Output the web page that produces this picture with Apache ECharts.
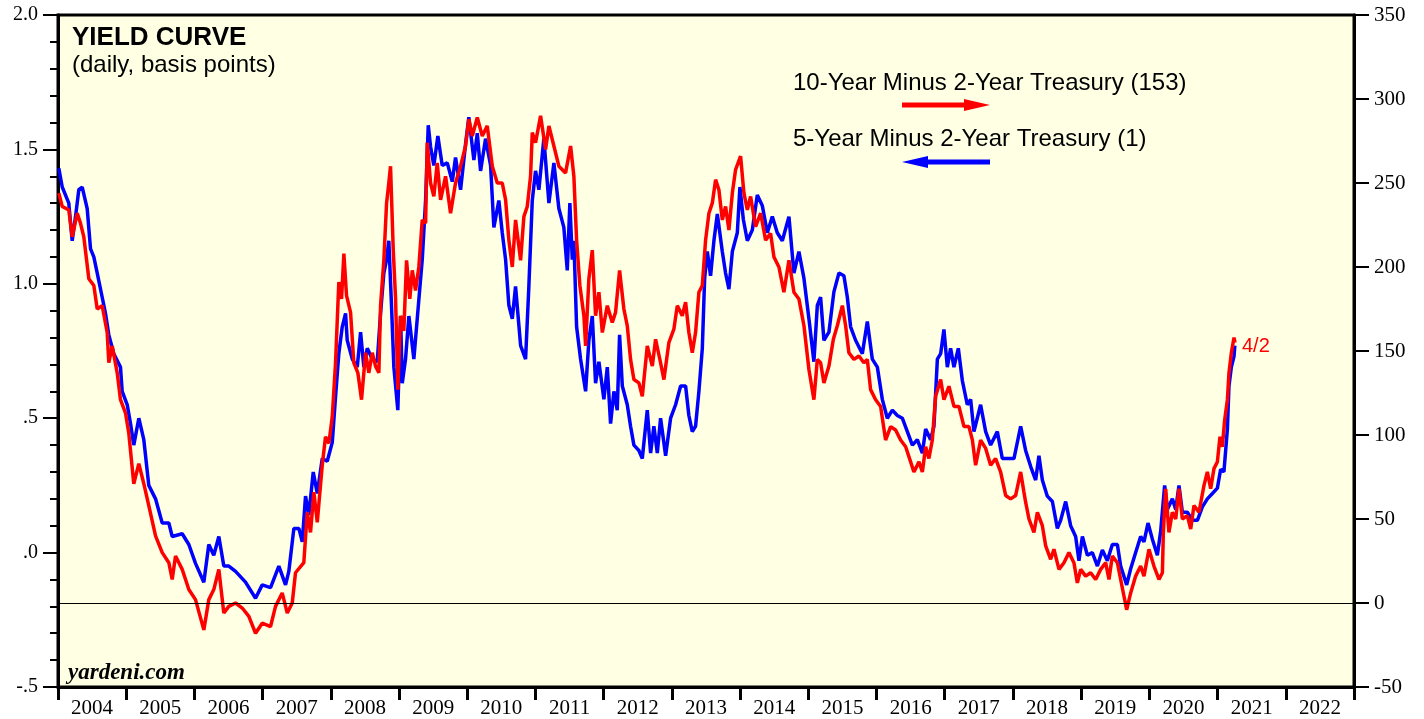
<!DOCTYPE html>
<html>
<head>
<meta charset="utf-8">
<script src="https://cdn.jsdelivr.net/npm/echarts@6/dist/echarts.min.js"></script>
<style>
html,body{margin:0;padding:0;background:#fff;}
#chart{width:1424px;height:719px;}
</style>
</head>
<body>
<div id="chart"></div>
<script>
// ---- Data (decimal years) ----
var years = ['2004','2005','2006','2007','2008','2009','2010','2011','2012','2013','2014','2015','2016','2017','2018','2019','2020','2021','2022'];

var leftTicks = [-0.5, 0, 0.5, 1, 1.5, 2];
var leftTickLabels = ['-.5', '.0', '.5', '1.0', '1.5', '2.0'];

// 5-Year minus 2-Year Treasury (left axis, percentage points)
var blueT = [2004.012,2004.062,2004.158,2004.208,2004.257,2004.305,2004.355,2004.428,2004.477,2004.525,2004.575,2004.648,2004.696,2004.745,2004.818,2004.916,2004.941,2005.015,2005.063,2005.111,2005.185,2005.258,2005.331,2005.430,2005.528,2005.625,2005.674,2005.821,2005.918,2006.016,2006.138,2006.211,2006.284,2006.358,2006.431,2006.504,2006.603,2006.749,2006.896,2006.994,2007.116,2007.238,2007.336,2007.384,2007.458,2007.531,2007.581,2007.629,2007.677,2007.742,2007.801,2007.874,2007.947,2008.021,2008.069,2008.117,2008.167,2008.216,2008.240,2008.314,2008.387,2008.436,2008.484,2008.534,2008.607,2008.680,2008.729,2008.777,2008.817,2008.850,2008.886,2008.924,2008.982,2009.022,2009.047,2009.095,2009.144,2009.217,2009.290,2009.340,2009.389,2009.428,2009.462,2009.510,2009.569,2009.633,2009.707,2009.780,2009.828,2009.902,2009.975,2010.023,2010.097,2010.147,2010.195,2010.268,2010.342,2010.390,2010.463,2010.513,2010.562,2010.610,2010.660,2010.708,2010.782,2010.855,2010.903,2010.953,2011.001,2011.050,2011.123,2011.197,2011.270,2011.343,2011.416,2011.466,2011.504,2011.540,2011.563,2011.603,2011.661,2011.735,2011.783,2011.833,2011.881,2011.930,2012.003,2012.053,2012.101,2012.150,2012.199,2012.233,2012.273,2012.346,2012.394,2012.443,2012.516,2012.566,2012.639,2012.688,2012.736,2012.786,2012.834,2012.908,2012.981,2013.054,2013.128,2013.201,2013.249,2013.299,2013.347,2013.396,2013.446,2013.480,2013.519,2013.567,2013.616,2013.666,2013.739,2013.787,2013.836,2013.886,2013.959,2013.997,2014.047,2014.106,2014.179,2014.252,2014.326,2014.399,2014.472,2014.545,2014.619,2014.716,2014.789,2014.862,2014.936,2015.009,2015.082,2015.132,2015.180,2015.229,2015.302,2015.375,2015.449,2015.522,2015.572,2015.620,2015.693,2015.792,2015.865,2015.938,2016.012,2016.085,2016.158,2016.232,2016.305,2016.378,2016.452,2016.525,2016.598,2016.672,2016.720,2016.793,2016.842,2016.892,2016.940,2016.988,2017.038,2017.086,2017.135,2017.199,2017.258,2017.331,2017.380,2017.428,2017.526,2017.600,2017.673,2017.771,2017.844,2017.918,2018.015,2018.113,2018.186,2018.260,2018.333,2018.381,2018.431,2018.504,2018.578,2018.651,2018.699,2018.773,2018.846,2018.919,2018.968,2019.018,2019.091,2019.164,2019.238,2019.311,2019.384,2019.457,2019.531,2019.579,2019.667,2019.726,2019.799,2019.872,2019.921,2019.980,2020.044,2020.117,2020.166,2020.224,2020.264,2020.337,2020.386,2020.434,2020.484,2020.557,2020.630,2020.704,2020.777,2020.850,2020.924,2020.997,2021.045,2021.093,2021.144,2021.167,2021.202,2021.241,2021.253];
var blueV = [1.43,1.36,1.30,1.16,1.25,1.35,1.36,1.28,1.13,1.10,1.04,0.95,0.89,0.81,0.74,0.69,0.60,0.55,0.48,0.40,0.50,0.42,0.25,0.20,0.11,0.11,0.06,0.07,0.03,-0.04,-0.11,0.03,-0.01,0.06,-0.05,-0.05,-0.07,-0.11,-0.17,-0.12,-0.13,-0.05,-0.12,-0.07,0.09,0.09,0.04,0.21,0.14,0.30,0.22,0.35,0.34,0.41,0.58,0.74,0.84,0.89,0.79,0.72,0.69,0.82,0.69,0.76,0.72,0.71,0.89,1.04,1.09,1.16,0.94,0.69,0.53,0.88,0.63,0.72,0.88,0.72,0.94,1.09,1.31,1.59,1.51,1.44,1.55,1.44,1.45,1.38,1.47,1.35,1.52,1.62,1.46,1.56,1.42,1.54,1.44,1.21,1.31,1.19,1.09,0.92,0.87,0.99,0.77,0.72,0.99,1.31,1.42,1.35,1.54,1.30,1.45,1.28,1.21,1.05,1.30,1.09,1.16,0.84,0.72,0.60,0.79,0.88,0.63,0.71,0.57,0.69,0.48,0.60,0.53,0.81,0.62,0.55,0.47,0.40,0.38,0.35,0.53,0.37,0.47,0.37,0.50,0.36,0.50,0.55,0.62,0.62,0.51,0.45,0.47,0.60,0.76,1.02,1.12,1.03,1.16,1.26,1.12,1.04,0.98,1.12,1.19,1.36,1.24,1.16,1.20,1.33,1.29,1.19,1.25,1.19,1.16,1.25,1.04,1.12,1.02,0.87,0.71,0.92,0.95,0.79,0.82,0.97,1.04,1.03,0.95,0.84,0.79,0.74,0.86,0.72,0.69,0.57,0.50,0.53,0.51,0.50,0.45,0.40,0.42,0.37,0.46,0.42,0.47,0.72,0.74,0.83,0.69,0.76,0.69,0.76,0.64,0.55,0.57,0.45,0.55,0.45,0.40,0.45,0.35,0.35,0.35,0.47,0.38,0.32,0.27,0.36,0.27,0.21,0.19,0.09,0.12,0.19,0.10,0.06,-0.03,0.06,-0.01,0.00,-0.05,0.01,-0.03,0.03,0.03,-0.05,-0.12,-0.06,0.00,0.06,0.04,0.11,0.05,-0.01,0.08,0.25,0.16,0.20,0.16,0.25,0.15,0.15,0.12,0.12,0.17,0.20,0.22,0.24,0.31,0.30,0.46,0.62,0.69,0.73,0.77];

// 10-Year minus 2-Year Treasury (right axis, basis points)
var redT = [2004.012,2004.062,2004.158,2004.208,2004.282,2004.330,2004.378,2004.452,2004.525,2004.575,2004.648,2004.721,2004.745,2004.795,2004.868,2004.916,2004.990,2005.038,2005.111,2005.185,2005.258,2005.331,2005.430,2005.528,2005.625,2005.674,2005.723,2005.821,2005.918,2006.016,2006.138,2006.211,2006.284,2006.358,2006.431,2006.504,2006.603,2006.701,2006.798,2006.896,2006.994,2007.116,2007.189,2007.287,2007.361,2007.434,2007.482,2007.604,2007.654,2007.702,2007.751,2007.801,2007.874,2007.922,2007.971,2008.021,2008.069,2008.117,2008.157,2008.191,2008.230,2008.289,2008.337,2008.396,2008.450,2008.509,2008.557,2008.607,2008.655,2008.704,2008.729,2008.777,2008.817,2008.850,2008.875,2008.915,2008.949,2008.982,2009.022,2009.070,2009.110,2009.158,2009.194,2009.242,2009.290,2009.340,2009.389,2009.413,2009.462,2009.510,2009.560,2009.609,2009.682,2009.755,2009.828,2009.902,2009.975,2010.023,2010.073,2010.147,2010.220,2010.293,2010.367,2010.440,2010.513,2010.562,2010.610,2010.660,2010.708,2010.782,2010.830,2010.880,2010.928,2010.953,2011.001,2011.075,2011.148,2011.197,2011.270,2011.343,2011.441,2011.515,2011.563,2011.603,2011.651,2011.710,2011.735,2011.783,2011.833,2011.881,2011.930,2011.980,2012.053,2012.126,2012.174,2012.233,2012.296,2012.346,2012.394,2012.443,2012.516,2012.566,2012.639,2012.713,2012.761,2012.834,2012.883,2012.956,2013.029,2013.079,2013.152,2013.201,2013.249,2013.299,2013.347,2013.396,2013.446,2013.494,2013.543,2013.592,2013.641,2013.689,2013.739,2013.787,2013.836,2013.886,2013.934,2014.007,2014.056,2014.106,2014.154,2014.227,2014.301,2014.374,2014.447,2014.496,2014.569,2014.642,2014.716,2014.789,2014.862,2014.936,2015.009,2015.082,2015.132,2015.180,2015.229,2015.302,2015.367,2015.425,2015.499,2015.547,2015.595,2015.669,2015.742,2015.815,2015.865,2015.913,2015.987,2016.060,2016.133,2016.207,2016.280,2016.353,2016.427,2016.500,2016.548,2016.622,2016.672,2016.720,2016.768,2016.818,2016.866,2016.940,2016.988,2017.062,2017.135,2017.208,2017.282,2017.355,2017.405,2017.453,2017.526,2017.600,2017.673,2017.746,2017.819,2017.893,2017.966,2018.040,2018.113,2018.161,2018.186,2018.235,2018.308,2018.358,2018.431,2018.480,2018.553,2018.601,2018.675,2018.748,2018.821,2018.894,2018.944,2018.993,2019.066,2019.139,2019.213,2019.286,2019.359,2019.408,2019.457,2019.531,2019.579,2019.628,2019.667,2019.726,2019.799,2019.872,2019.921,2019.994,2020.067,2020.141,2020.191,2020.205,2020.239,2020.287,2020.337,2020.386,2020.434,2020.484,2020.557,2020.606,2020.654,2020.727,2020.801,2020.850,2020.899,2020.947,2020.997,2021.035,2021.070,2021.104,2021.144,2021.167,2021.202,2021.241,2021.255];
var redV = [244,236,234,218,232,226,218,193,189,175,177,161,143,153,137,121,113,101,71,83,71,58,40,30,24,14,28,20,8,2,-16,2,8,20,-6,-2,0,-3,-8,-18,-12,-14,-2,6,-6,0,18,24,54,42,66,48,82,99,95,111,143,191,181,208,183,173,143,137,121,149,137,149,141,137,177,204,238,250,260,210,181,127,171,162,204,181,198,186,200,228,226,274,250,242,262,240,254,232,250,260,272,288,278,289,278,284,260,250,250,240,216,200,228,204,230,236,254,280,274,290,270,284,272,260,256,272,254,216,189,171,153,193,210,171,185,161,177,167,173,198,175,165,145,133,131,123,153,141,157,143,133,155,163,177,171,179,161,149,161,185,189,216,232,238,252,246,228,236,222,244,258,266,244,234,242,224,232,216,220,206,200,185,204,185,181,165,139,121,145,143,131,141,157,165,177,165,149,145,147,143,145,127,121,117,97,105,103,97,93,84,78,84,78,93,86,97,123,133,121,129,117,117,105,105,97,82,97,92,82,86,78,64,62,64,78,66,60,50,42,54,46,34,26,32,20,24,30,24,12,20,16,18,14,20,24,14,28,24,14,4,-4,6,16,22,16,32,22,14,18,42,68,42,54,50,68,50,52,44,58,54,70,78,68,80,84,99,93,109,121,137,149,158,155];

var title = 'YIELD CURVE';
var subtitle = '(daily, basis points)';
var redName = '10-Year Minus 2-Year Treasury (153)';
var blueName = '5-Year Minus 2-Year Treasury (1)';
var endDateLabel = '4/2';
var source = 'yardeni.com';

function pairs(t, v) { return t.map(function (x, i) { return [x, v[i]]; }); }

var SERIF = '"Liberation Serif", "Times New Roman", serif';
var SANS = '"Liberation Sans", Arial, sans-serif';

var chart = echarts.init(document.getElementById('chart'), null, { renderer: 'canvas' });

var option = {
  animation: false,
  backgroundColor: '#ffffff',
  grid: {
    left: 58, right: 70, top: 15, bottom: 31,
    show: true, backgroundColor: '#ffffe4', borderColor: '#000', borderWidth: 3,
    containLabel: false
  },
  xAxis: [
    {
      type: 'value', min: 2004, max: 2023, interval: 1, position: 'bottom',
      axisLine: { show: true, onZero: false, lineStyle: { color: '#000', width: 3 } },
      axisTick: { show: true, length: 13, lineStyle: { color: '#000', width: 3 } },
      axisLabel: { show: false },
      splitLine: { show: false }
    },
    {
      type: 'category', data: years, position: 'bottom', boundaryGap: true,
      axisLine: { show: false, onZero: false }, axisTick: { show: false }, splitLine: { show: false },
      axisLabel: { show: true, interval: 0, margin: 11, color: '#000', fontFamily: SERIF, fontSize: 21 }
    }
  ],
  yAxis: [
    {
      type: 'value', position: 'left', min: -0.5, max: 2.0, interval: 0.5,
      axisLine: { show: true, onZero: false, lineStyle: { color: '#000', width: 3 } },
      axisTick: { show: true, length: 15, lineStyle: { color: '#000', width: 2 } },
      minorTick: { show: true, splitNumber: 5, length: 8, lineStyle: { color: '#000', width: 2 } },
      splitLine: { show: false },
      axisLabel: {
        margin: 20, color: '#000', fontFamily: SERIF, fontSize: 20, padding: [5, 0, 0, 0],
        formatter: function (v) {
          for (var i = 0; i < leftTicks.length; i++) {
            if (Math.abs(leftTicks[i] - v) < 1e-9) return leftTickLabels[i];
          }
          return '';
        }
      }
    },
    {
      type: 'value', position: 'right', min: -50, max: 350, interval: 50,
      axisLine: { show: true, onZero: false, lineStyle: { color: '#000', width: 3 } },
      axisTick: { show: true, length: 15, lineStyle: { color: '#000', width: 2 } },
      splitLine: { show: false },
      axisLabel: { margin: 20, color: '#000', fontFamily: SERIF, fontSize: 21, padding: [5, 0, 0, 0] }
    }
  ],
  series: [
    {
      name: blueName, type: 'line', xAxisIndex: 0, yAxisIndex: 0,
      data: pairs(blueT, blueV), showSymbol: false, symbol: 'none',
      lineStyle: { color: '#0000ff', width: 3.5 }, itemStyle: { color: '#0000ff' },
      z: 3
    },
    {
      name: redName, type: 'line', xAxisIndex: 0, yAxisIndex: 1,
      data: pairs(redT, redV), showSymbol: false, symbol: 'none',
      lineStyle: { color: '#ff0000', width: 3.5 }, itemStyle: { color: '#ff0000' },
      z: 4,
      endLabel: { show: true, formatter: endDateLabel, color: '#ff0000', fontFamily: SANS, fontSize: 20, distance: 7, offset: [0, 4] },
      markLine: {
        silent: true, symbol: ['none', 'none'], label: { show: false },
        lineStyle: { color: '#000', width: 1, type: 'solid' },
        data: [{ yAxis: 0 }]
      }
    }
  ],
  graphic: [
    { type: 'text', left: 72, top: 25, style: { text: title, font: 'bold 26px ' + SANS, fill: '#000' } },
    { type: 'text', left: 72, top: 53, style: { text: subtitle, font: '24px ' + SANS, fill: '#000' } },
    { type: 'text', left: 793, top: 71, style: { text: redName, font: '24px ' + SANS, fill: '#000' } },
    { type: 'text', left: 793, top: 127, style: { text: blueName, font: '24px ' + SANS, fill: '#000' } },
    { type: 'line', shape: { x1: 902, y1: 105, x2: 968, y2: 105 }, style: { stroke: '#ff0000', lineWidth: 5 } },
    { type: 'polygon', shape: { points: [[964, 99], [990, 105], [964, 111]] }, style: { fill: '#ff0000' } },
    { type: 'line', shape: { x1: 924, y1: 162, x2: 990, y2: 162 }, style: { stroke: '#0000ff', lineWidth: 5 } },
    { type: 'polygon', shape: { points: [[928, 156], [902, 162], [928, 168]] }, style: { fill: '#0000ff' } },
    { type: 'text', left: 68, top: 662, style: { text: source, font: 'italic bold 23px ' + SERIF, fill: '#000' } }
  ]
};

chart.setOption(option);
</script>
</body>
</html>
